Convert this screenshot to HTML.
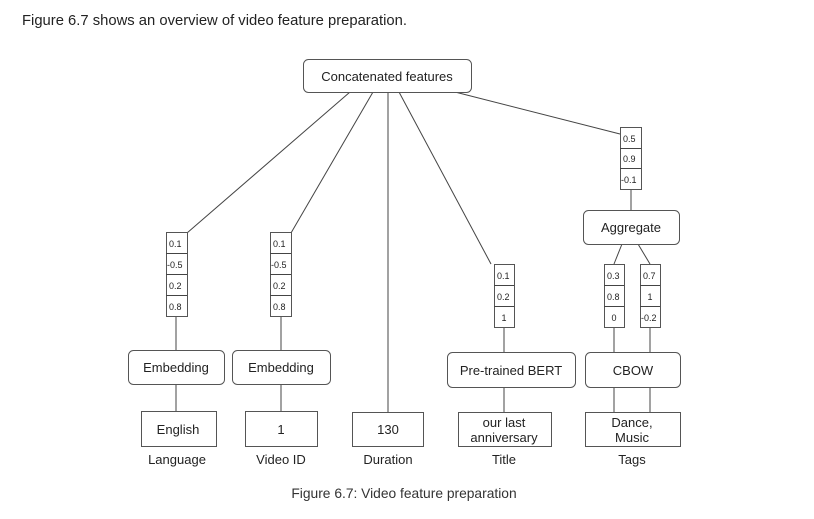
<!DOCTYPE html>
<html><head><meta charset="utf-8"><style>
body{margin:0;background:#fff;width:814px;height:519px;overflow:hidden}
svg{display:block}
text{font-family:"Liberation Sans",sans-serif;fill:#222}
.b{fill:#fff;stroke:#555;stroke-width:1}
.l{stroke:#444;stroke-width:1;fill:none}
</style></head><body>
<svg width="814" height="519" xmlns="http://www.w3.org/2000/svg">
<text x="22" y="25" font-size="14.8" style="fill:#222">Figure 6.7 shows an overview of video feature preparation.</text>
<g class="l">
<line x1="350" y1="92" x2="187" y2="233"/>
<line x1="373" y1="92" x2="291" y2="233"/>
<line x1="388" y1="92" x2="388" y2="412"/>
<line x1="399" y1="92" x2="491" y2="264"/>
<line x1="455" y1="92" x2="620" y2="134"/>
<line x1="176" y1="316" x2="176" y2="350"/>
<line x1="176" y1="384" x2="176" y2="411"/>
<line x1="281" y1="316" x2="281" y2="350"/>
<line x1="281" y1="384" x2="281" y2="411"/>
<line x1="504" y1="327" x2="504" y2="352"/>
<line x1="504" y1="387" x2="504" y2="412"/>
<line x1="631" y1="189" x2="631" y2="210"/>
<line x1="622" y1="244" x2="614" y2="264"/>
<line x1="638" y1="244" x2="650" y2="264"/>
<line x1="614" y1="327" x2="614" y2="352"/>
<line x1="650" y1="327" x2="650" y2="352"/>
<line x1="614" y1="387" x2="614" y2="412"/>
<line x1="650" y1="387" x2="650" y2="412"/>
</g>
<rect class="b" x="303.5" y="59.5" width="168" height="33" rx="5"/>
<text x="387" y="81" font-size="13" text-anchor="middle">Concatenated features</text>
<g font-size="9">
<rect class="b" x="166.5" y="232.5" width="21" height="84"/>
<line class="l" x1="166" y1="253.5" x2="187" y2="253.5"/><line class="l" x1="166" y1="274.5" x2="187" y2="274.5"/><line class="l" x1="166" y1="295.5" x2="187" y2="295.5"/>
<text x="169" y="247">0.1</text><text x="167" y="268">-0.5</text><text x="169" y="289">0.2</text><text x="169" y="310">0.8</text>
<rect class="b" x="270.5" y="232.5" width="21" height="84"/>
<line class="l" x1="270" y1="253.5" x2="291" y2="253.5"/><line class="l" x1="270" y1="274.5" x2="291" y2="274.5"/><line class="l" x1="270" y1="295.5" x2="291" y2="295.5"/>
<text x="273" y="247">0.1</text><text x="271" y="268">-0.5</text><text x="273" y="289">0.2</text><text x="273" y="310">0.8</text>
<rect class="b" x="494.5" y="264.5" width="20" height="63"/>
<line class="l" x1="494" y1="285.5" x2="514" y2="285.5"/><line class="l" x1="494" y1="306.5" x2="514" y2="306.5"/>
<text x="497" y="279">0.1</text><text x="497" y="300">0.2</text><text x="504" y="321" text-anchor="middle">1</text>
<rect class="b" x="604.5" y="264.5" width="20" height="63"/>
<line class="l" x1="604" y1="285.5" x2="624" y2="285.5"/><line class="l" x1="604" y1="306.5" x2="624" y2="306.5"/>
<text x="607" y="279">0.3</text><text x="607" y="300">0.8</text><text x="614" y="321" text-anchor="middle">0</text>
<rect class="b" x="640.5" y="264.5" width="20" height="63"/>
<line class="l" x1="640" y1="285.5" x2="660" y2="285.5"/><line class="l" x1="640" y1="306.5" x2="660" y2="306.5"/>
<text x="643" y="279">0.7</text><text x="650" y="300" text-anchor="middle">1</text><text x="641" y="321">-0.2</text>
<rect class="b" x="620.5" y="127.5" width="21" height="62"/>
<line class="l" x1="620" y1="148.5" x2="641" y2="148.5"/><line class="l" x1="620" y1="168.5" x2="641" y2="168.5"/>
<text x="623" y="142">0.5</text><text x="623" y="162">0.9</text><text x="621" y="183">-0.1</text>
</g>
<g font-size="13" text-anchor="middle">
<rect class="b" x="128.5" y="350.5" width="96" height="34" rx="5"/><text x="176" y="372">Embedding</text>
<rect class="b" x="232.5" y="350.5" width="98" height="34" rx="5"/><text x="281" y="372">Embedding</text>
<rect class="b" x="447.5" y="352.5" width="128" height="35" rx="5"/><text x="511" y="375">Pre-trained BERT</text>
<rect class="b" x="585.5" y="352.5" width="95" height="35" rx="5"/><text x="633" y="375">CBOW</text>
<rect class="b" x="583.5" y="210.5" width="96" height="34" rx="5"/><text x="631" y="232">Aggregate</text>
<rect class="b" x="141.5" y="411.5" width="75" height="35"/><text x="178" y="434">English</text>
<rect class="b" x="245.5" y="411.5" width="72" height="35"/><text x="281" y="434">1</text>
<rect class="b" x="352.5" y="412.5" width="71" height="34"/><text x="388" y="434">130</text>
<rect class="b" x="458.5" y="412.5" width="93" height="34"/><text x="504" y="427">our last</text><text x="504" y="442">anniversary</text>
<rect class="b" x="585.5" y="412.5" width="95" height="34"/><text x="632" y="427">Dance,</text><text x="632" y="442">Music</text>
<text x="177" y="464">Language</text><text x="281" y="464">Video ID</text><text x="388" y="464">Duration</text><text x="504" y="464">Title</text><text x="632" y="464">Tags</text>
</g>
<text x="404" y="498" font-size="13.8" text-anchor="middle" style="fill:#333">Figure 6.7: Video feature preparation</text>
</svg>
</body></html>
